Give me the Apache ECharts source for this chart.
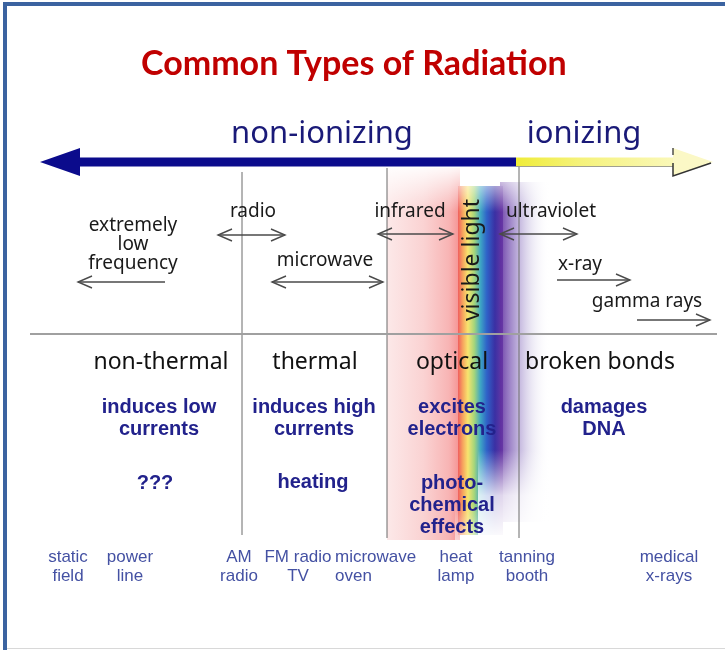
<!DOCTYPE html>
<html><head><meta charset="utf-8">
<script src="https://cdn.jsdelivr.net/npm/echarts@6/dist/echarts.min.js"></script>
<style>html,body{margin:0;padding:0;background:#fff}#c{width:725px;height:650px}</style>
</head><body><div id="c"></div>
<script>
// ---- data ----
const titleText = 'Common Types of Radiation';
const classNames = ['non-ionizing', 'ionizing'];
const classX = [322, 584];
const classY = [134, 134];
// spectrum scale: left tip, ionizing boundary, right tip, baseline
const scaleEnds = [40, 713];
const ionizingBoundary = 516;
const scaleY = 162;
const bandNames = ['extremely\nlow\nfrequency', 'radio', 'microwave', 'infrared', 'ultraviolet', 'x-ray', 'gamma rays'];
const bandX = [133, 253, 325, 410, 551, 580, 647];
const bandY = [245, 212, 261, 212, 212, 265, 302];
// band extent arrows: [from x, to x, y, head at from, head at to]
const bandArrows = [
  [165, 78, 282, 0, 1],
  [218, 285, 235, 1, 1],
  [272, 383, 282, 1, 1],
  [378, 453, 234, 1, 1],
  [500, 577, 234, 1, 1],
  [557, 630, 280, 0, 1],
  [637, 710, 320, 0, 1]
];
const visibleLabel = 'visible light';
// glow ranges along the scale: infrared, visible, ultraviolet
const glowRanges = [[387, 460], [458, 503], [500, 550]];
const dividerX = [242, 387, 519];
const separatorY = 334;
const effectNames = ['non-thermal', 'thermal', 'optical', 'broken bonds'];
const effectX = [161, 315, 452, 600];
const effectY = 362;
const mechanisms = ['induces low\ncurrents', 'induces high\ncurrents', 'excites\nelectrons', 'damages\nDNA'];
const mechX = [159, 314, 452, 604];
const mechY = 418;
const outcomes = ['???', 'heating', 'photo-\nchemical\neffects'];
const outcomeX = [155, 313, 452];
const outcomeY = [483, 482, 505];
const sources = ['static\nfield', 'power\nline', 'AM\nradio', 'FM radio\nTV', 'microwave\noven', 'heat\nlamp', 'tanning\nbooth', 'medical\nx-rays'];
const sourceX = [68, 130, 239, 298, 335, 456, 527, 669];
const sourceY = 567;

// ---- chart ----
const chart = echarts.init(document.getElementById('c'), null, {renderer: 'canvas'});

function lin(stops, vertical) {
  return {type: 'linear', x: 0, y: 0, x2: vertical ? 0 : 1, y2: vertical ? 1 : 0,
    colorStops: stops.map(s => ({offset: s[0], color: s[1]}))};
}

function textSeries(name, data, label, z) {
  return {
    type: 'scatter', name, silent: true, symbolSize: 0, z: z || 5,
    itemStyle: {color: 'transparent', opacity: 1},
    label: Object.assign({show: true, position: 'inside', formatter: '{b}', opacity: 1}, label),
    data
  };
}

const glowTops = [168, 186, 182];
const glowBottoms = [540, 535, 522];
const glowFills = [
  lin([[0, 'rgba(252,230,230,0.9)'], [0.5, 'rgba(250,208,208,0.95)'], [0.85, 'rgba(248,180,180,1)'], [1, 'rgba(244,145,145,1)']]),
  lin([[0, '#ef5e5e'], [0.1, '#f6a05e'], [0.22, '#f8e46e'], [0.36, '#a6d67a'], [0.5, '#3ea6c4'], [0.64, '#2f62c8'], [0.82, '#3a30a4'], [1, '#6a38a4']]),
  lin([[0, 'rgba(96,46,160,0.9)'], [0.3, 'rgba(128,98,184,0.6)'], [0.65, 'rgba(190,180,220,0.28)'], [1, 'rgba(255,255,255,0)']])
];

const option = {
  animation: false,
  backgroundColor: '#fff',
  title: {
    text: titleText, left: 136, top: 42,
    textStyle: {color: '#c00000', fontSize: 34, fontWeight: 'bold', fontFamily: 'Lato'}
  },
  grid: {left: 0, right: 0, top: 0, bottom: 0},
  xAxis: {type: 'value', min: 0, max: 725, show: false},
  yAxis: {type: 'value', min: 0, max: 650, inverse: true, show: false},
  graphic: [
    {type: 'rect', z: 100, silent: true, shape: {x: 5, y: 4, width: 760, height: 700},
     style: {fill: null, stroke: '#3b63a0', lineWidth: 4}},
    {type: 'line', z: 100, silent: true, shape: {x1: 7, y1: 648.5, x2: 725, y2: 648.5},
     style: {stroke: '#d8d8d8', lineWidth: 1}}
  ],
  series: [
    // glow regions
    {
      type: 'custom', silent: true, z: 1,
      data: glowRanges.map((r, i) => [r[0], r[1], i]),
      renderItem: function (params, api) {
        const i = api.value(2);
        const p0 = api.coord([api.value(0), glowTops[i]]);
        const p1 = api.coord([api.value(1), glowBottoms[i]]);
        return {type: 'rect', shape: {x: p0[0], y: p0[1], width: p1[0] - p0[0], height: p1[1] - p0[1]},
          style: {fill: glowFills[i]}};
      }
    },
    // fades at the top and bottom of the glow
    {
      type: 'custom', silent: true, z: 2,
      data: [[glowRanges[0][0], glowRanges[2][1]]],
      renderItem: function (params, api) {
        const a = api.coord([api.value(0), 164]);
        const b = api.coord([api.value(1), 212]);
        const c = api.coord([478, 450]);
        const d = api.coord([api.value(1), 541]);
        const e = api.coord([455, 505]);
        return {type: 'group', children: [
          {type: 'rect', shape: {x: a[0] - 2, y: a[1], width: b[0] - a[0] + 6, height: b[1] - a[1]},
            style: {fill: lin([[0, 'rgba(255,255,255,1)'], [0.4, 'rgba(255,255,255,0.6)'], [1, 'rgba(255,255,255,0)']], true)}},
          {type: 'rect', shape: {x: c[0], y: c[1], width: d[0] - c[0] + 4, height: d[1] - c[1]},
            style: {fill: lin([[0, 'rgba(255,255,255,0)'], [0.5, 'rgba(255,255,255,0.8)'], [1, 'rgba(255,255,255,1)']], true)}},
          {type: 'rect', shape: {x: e[0], y: e[1], width: c[0] - e[0], height: d[1] - e[1]},
            style: {fill: lin([[0, 'rgba(255,255,255,0)'], [1, 'rgba(255,255,255,0.6)']], true)}}
        ]};
      }
    },
    // dividers and separator
    {
      type: 'custom', silent: true, z: 3,
      data: dividerX.map(x => [x]),
      renderItem: function (params, api) {
        const tops = [172, 168, 166], bots = [535, 538, 538];
        const a = api.coord([api.value(0), tops[params.dataIndex]]);
        const b = api.coord([api.value(0), bots[params.dataIndex]]);
        return {type: 'line', shape: {x1: a[0], y1: a[1], x2: b[0], y2: b[1]},
          style: {stroke: '#6a6a6a', lineWidth: 1}};
      }
    },
    {
      type: 'custom', silent: true, z: 3,
      data: [[30, 717, separatorY]],
      renderItem: function (params, api) {
        const a = api.coord([api.value(0), api.value(2)]);
        const b = api.coord([api.value(1), api.value(2)]);
        return {type: 'line', shape: {x1: a[0], y1: a[1], x2: b[0], y2: b[1]},
          style: {stroke: '#a0a0a0', lineWidth: 2}};
      }
    },
    // main ionization arrow
    {
      type: 'custom', silent: true, z: 4,
      data: [[scaleEnds[0], ionizingBoundary, scaleEnds[1], scaleY]],
      renderItem: function (params, api) {
        const y = api.value(3);
        const L = api.coord([api.value(0), y]);
        const M = api.coord([api.value(1), y]);
        const R = api.coord([api.value(2), y]);
        const hb = L[0] + 40, hr = R[0] - 40;
        const cy = L[1];
        return {type: 'group', children: [
          {type: 'polygon', shape: {points: [[L[0], cy], [hb, cy - 14], [hb, cy - 4.5], [M[0], cy - 4.5], [M[0], cy + 4.5], [hb, cy + 4.5], [hb, cy + 14]]},
            style: {fill: '#0b0b8c'}},
          {type: 'rect', shape: {x: M[0], y: cy - 4.5, width: hr - M[0], height: 9},
            style: {fill: lin([[0, '#efec38'], [0.4, '#f5f27a'], [1, '#faf8b8']])}},
          {type: 'line', shape: {x1: M[0], y1: cy + 4.5, x2: hr, y2: cy + 4.5}, style: {stroke: '#a0a090', lineWidth: 1}},
          {type: 'polygon', shape: {points: [[hr, cy - 14], [hr, cy + 14], [R[0], cy]]},
            style: {fill: '#fbf8c6'}},
          {type: 'polyline', shape: {points: [[hr, cy - 14], [hr, cy - 7]]}, style: {stroke: '#333', lineWidth: 1.3}},
          {type: 'polyline', shape: {points: [[hr, cy + 1], [hr, cy + 14], [R[0] - 2, cy + 1]]}, style: {stroke: '#333', lineWidth: 1.5, fill: null}}
        ]};
      }
    },
    // band extent arrows
    {
      type: 'custom', silent: true, z: 4,
      data: bandArrows,
      renderItem: function (params, api) {
        const a = api.coord([api.value(0), api.value(2)]);
        const b = api.coord([api.value(1), api.value(2)]);
        const dir = b[0] > a[0] ? 1 : -1;
        const kids = [{type: 'line', shape: {x1: a[0], y1: a[1], x2: b[0], y2: b[1]}, style: {stroke: '#4a4a4a', lineWidth: 1.4}}];
        const head = (p, d) => ({type: 'polyline', shape: {points: [[p[0] - d * 14, p[1] - 6], [p[0], p[1]], [p[0] - d * 14, p[1] + 6]]},
          style: {stroke: '#4a4a4a', lineWidth: 1.4, fill: null}});
        if (api.value(3)) kids.push(head(a, -dir));
        if (api.value(4)) kids.push(head(b, dir));
        return {type: 'group', children: kids};
      }
    },
    // texts
    textSeries('classes', classNames.map((n, i) => ({name: n, value: [classX[i], classY[i]]})),
      {fontFamily: 'Noto Sans', fontSize: 31, color: '#1a1a78'}),
    textSeries('bands', bandNames.map((n, i) => ({name: n, value: [bandX[i], bandY[i]]})),
      {fontFamily: 'Noto Sans', fontSize: 19, lineHeight: 19, color: '#1a1a1a'}),
    textSeries('visible', [{name: visibleLabel, value: [glowRanges[1][0] + 14, 260]}],
      {fontFamily: 'Noto Sans', fontSize: 23, color: '#1a1a1a', rotate: 90}),
    textSeries('effects', effectNames.map((n, i) => ({name: n, value: [effectX[i], effectY]})),
      {fontFamily: 'Noto Sans', fontSize: 23, color: '#111'}),
    textSeries('mechanisms', mechanisms.map((n, i) => ({name: n, value: [mechX[i], mechY]})),
      {fontFamily: 'Liberation Sans', fontWeight: 'bold', fontSize: 20, lineHeight: 22, color: '#22228c'}),
    textSeries('outcomes', outcomes.map((n, i) => ({name: n, value: [outcomeX[i], outcomeY[i]]})),
      {fontFamily: 'Liberation Sans', fontWeight: 'bold', fontSize: 20, lineHeight: 22, color: '#22228c'}),
    textSeries('sources', sources.map((n, i) => {
        const d = {name: n, value: [sourceX[i], sourceY]};
        if (i === 4) d.label = {position: 'right', distance: 0, align: 'left'};
        return d;
      }),
      {fontFamily: 'Liberation Sans', fontSize: 17, lineHeight: 19, color: '#4451a3'})
  ]
};
chart.setOption(option);
</script>
</body></html>
